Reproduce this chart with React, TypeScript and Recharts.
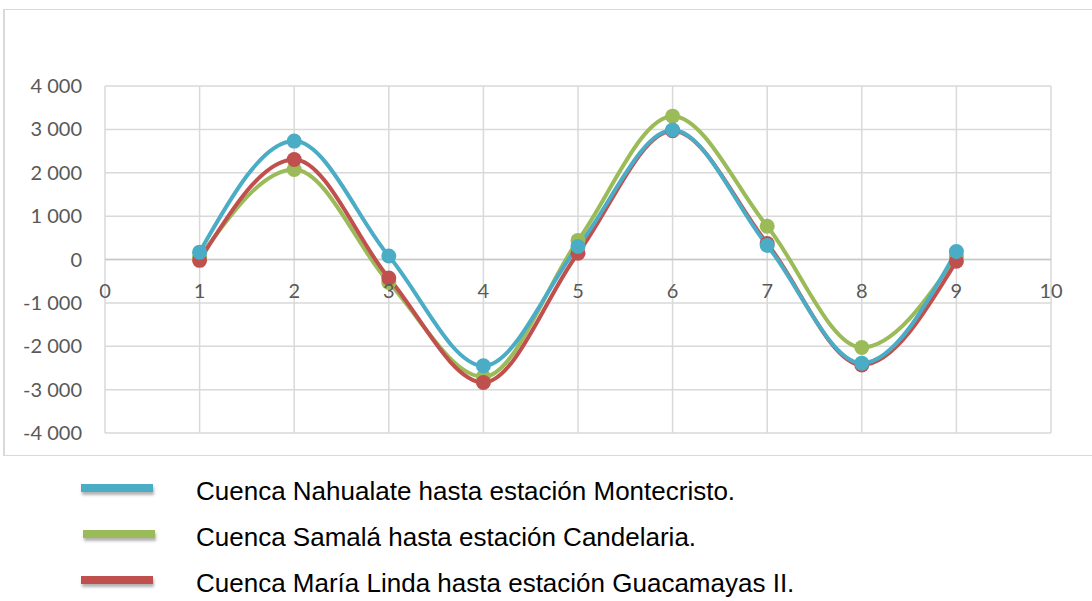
import { CartesianGrid, Line, LineChart, ReferenceDot, ReferenceLine, XAxis, YAxis } from "recharts";

const xValues = [1, 2, 3, 4, 5, 6, 7, 8, 9];
const nahualate = [170, 2730, 80, -2450, 300, 2985, 325, -2390, 185];
const samala = [50, 2075, -530, -2705, 440, 3305, 765, -2030, 60];
const mariaLinda = [-20, 2305, -425, -2835, 145, 2970, 370, -2430, -40];

const xTicks = [0, 1, 2, 3, 4, 5, 6, 7, 8, 9, 10];
const yTicks = [-4000, -3000, -2000, -1000, 0, 1000, 2000, 3000, 4000];

const series = [
  { key: "samala", name: "Cuenca Samalá hasta estación Candelaria.", color: "#9BBB59" },
  { key: "mariaLinda", name: "Cuenca María Linda hasta estación Guacamayas II.", color: "#C0504D" },
  { key: "nahualate", name: "Cuenca Nahualate hasta estación Montecristo.", color: "#4BACC6" },
];

const legendOrder = ["nahualate", "samala", "mariaLinda"];

const data = xValues.map((x, i) => ({
  x,
  nahualate: nahualate[i],
  samala: samala[i],
  mariaLinda: mariaLinda[i],
}));

const fmt = (v: number) => {
  const s = Math.abs(v).toString().replace(/\B(?=(\d{3})+(?!\d))/g, " ");
  return v < 0 ? "-" + s : s;
};

const tickFont = { fontSize: 20, fill: "#595959", fontFamily: "Lato, sans-serif" };

export default function App() {
  return (
    <div style={{ position: "absolute", left: 0, top: 0, width: 1092, height: 601, background: "#fff", overflow: "hidden" }}>
      <div
        style={{
          position: "absolute",
          left: 3,
          top: 9,
          width: 1100,
          height: 445,
          borderTop: "1px solid #D9D9D9",
          borderBottom: "1px solid #D9D9D9",
          borderLeft: "2px solid #D9D9D9",
        }}
      />
      <div style={{ position: "absolute", left: 0, top: 0 }}>
        <LineChart width={1092} height={460} data={data} margin={{ top: 86, right: 41, bottom: 27, left: 0 }}>
          <CartesianGrid stroke="#D9D9D9" strokeWidth={1.5} />
          <XAxis dataKey="x" type="number" domain={[0, 10]} ticks={xTicks} hide />
          <YAxis
            type="number"
            domain={[-4000, 4000]}
            ticks={yTicks}
            width={105}
            axisLine={false}
            tickLine={false}
            tickSize={0}
            tickMargin={23}
            tick={tickFont}
            tickFormatter={fmt}
            interval={0}
          />
          <ReferenceLine y={0} stroke="#C8C8C8" strokeWidth={1.5} />
          {xTicks.map((t) => (
            <ReferenceDot
              key={t}
              x={t}
              y={0}
              r={0}
              stroke="none"
              fill="none"
              label={{ value: t, position: "bottom", offset: 24, ...tickFont }}
            />
          ))}
          {series.map((s) => (
            <Line
              key={s.key}
              type="monotone"
              dataKey={s.key}
              name={s.name}
              stroke={s.color}
              strokeWidth={4}
              dot={{ r: 7.5, fill: s.color, stroke: "none" }}
              activeDot={false}
              isAnimationActive={false}
            />
          ))}
        </LineChart>
      </div>
      {legendOrder.map((k, i) => {
        const s = series.find((q) => q.key === k)!;
        return (
          <div key={k} style={{ position: "absolute", left: 0, top: 471 + i * 46, height: 32, width: 1092 }}>
            <div
              style={{
                position: "absolute",
                left: 81 + (i === 1 ? 2 : 0),
                top: 13,
                width: 72,
                height: 8,
                background: s.color,
                boxShadow: "1px 3px 3px rgba(0,0,0,0.3)",
              }}
            />
            <div
              style={{
                position: "absolute",
                left: 196,
                top: 6,
                fontFamily: "'Liberation Sans', Arial, sans-serif",
                fontSize: 26,
                lineHeight: "28px",
                color: "#000",
                whiteSpace: "nowrap",
              }}
            >
              {s.name}
            </div>
          </div>
        );
      })}
    </div>
  );
}
